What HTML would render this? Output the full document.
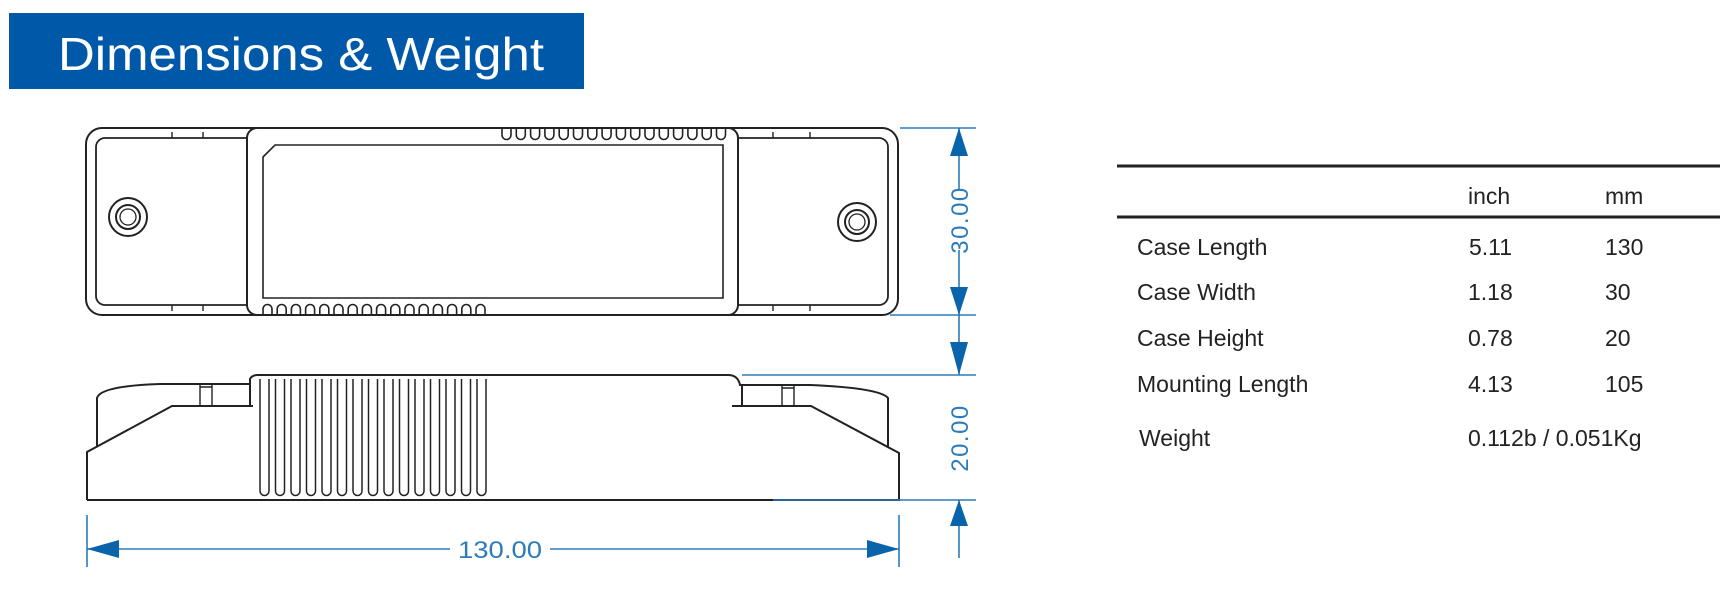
<!DOCTYPE html>
<html><head><meta charset="utf-8"><style>
html,body{margin:0;padding:0;background:#fff;}
svg{display:block}
</style></head><body>
<svg width="1728" height="593" viewBox="0 0 1728 593" xmlns="http://www.w3.org/2000/svg">
<rect x="9" y="13" width="575" height="76" fill="#0058a8"/>
<text x="58" y="70" font-family="Liberation Sans, sans-serif" font-size="46" fill="#fff" textLength="486" lengthAdjust="spacingAndGlyphs">Dimensions &amp; Weight</text>

<g fill="none" stroke="#222" stroke-width="2">
<rect x="86" y="128" width="812" height="187" rx="16"/>
<rect x="96" y="138" width="792" height="167" rx="9" stroke-width="1.8"/>
<rect x="247" y="128" width="491" height="187" rx="10" fill="#fff"/>
<path d="M275 145 H723 V298 H263 V157 Z" stroke-width="1.6"/>
<circle cx="128" cy="217" r="19"/><circle cx="128" cy="217" r="12"/><circle cx="128" cy="217" r="8" stroke-width="1.3"/>
<circle cx="857" cy="222" r="19"/><circle cx="857" cy="222" r="12"/><circle cx="857" cy="222" r="8" stroke-width="1.3"/>
<path d="M172 138v-6 M203 138v-6 M172 305v6 M203 305v6 M773 138v-6 M810 138v-6 M773 305v6 M810 305v6" stroke-width="1.4"/>
</g>
<g fill="none" stroke="#222" stroke-width="1.6">
<path d="M502 129v6a4.5 4.5 0 0 0 9 0v-6 M516.3 129v6a4.5 4.5 0 0 0 9 0v-6 M530.6 129v6a4.5 4.5 0 0 0 9 0v-6 M544.9 129v6a4.5 4.5 0 0 0 9 0v-6 M559.2 129v6a4.5 4.5 0 0 0 9 0v-6 M573.5 129v6a4.5 4.5 0 0 0 9 0v-6 M587.8 129v6a4.5 4.5 0 0 0 9 0v-6 M602.1 129v6a4.5 4.5 0 0 0 9 0v-6 M616.4 129v6a4.5 4.5 0 0 0 9 0v-6 M630.7 129v6a4.5 4.5 0 0 0 9 0v-6 M645 129v6a4.5 4.5 0 0 0 9 0v-6 M659.3 129v6a4.5 4.5 0 0 0 9 0v-6 M673.6 129v6a4.5 4.5 0 0 0 9 0v-6 M687.9 129v6a4.5 4.5 0 0 0 9 0v-6 M702.2 129v6a4.5 4.5 0 0 0 9 0v-6 M716.5 129v6a4.5 4.5 0 0 0 9 0v-6"/>
<path d="M263 315v-6a4.5 4.5 0 0 1 9 0v6 M277.2 315v-6a4.5 4.5 0 0 1 9 0v6 M291.4 315v-6a4.5 4.5 0 0 1 9 0v6 M305.6 315v-6a4.5 4.5 0 0 1 9 0v6 M319.8 315v-6a4.5 4.5 0 0 1 9 0v6 M334 315v-6a4.5 4.5 0 0 1 9 0v6 M348.2 315v-6a4.5 4.5 0 0 1 9 0v6 M362.4 315v-6a4.5 4.5 0 0 1 9 0v6 M376.6 315v-6a4.5 4.5 0 0 1 9 0v6 M390.8 315v-6a4.5 4.5 0 0 1 9 0v6 M405 315v-6a4.5 4.5 0 0 1 9 0v6 M419.2 315v-6a4.5 4.5 0 0 1 9 0v6 M433.4 315v-6a4.5 4.5 0 0 1 9 0v6 M447.6 315v-6a4.5 4.5 0 0 1 9 0v6 M461.8 315v-6a4.5 4.5 0 0 1 9 0v6 M476 315v-6a4.5 4.5 0 0 1 9 0v6"/>
</g>

<g fill="none" stroke="#222" stroke-width="2">
<path d="M87 500 V452 L172 406 H253 M87 500 H899 V453 L811 406 H732"/>
<path d="M97 447 V398 Q100 386 160 384 H250 V379 Q252 375 258 375 H728 Q738 375 740 385 H742 V406 M250 384 V406 M742 385 H810 Q880 388 888 398 V447"/>
<path d="M200 384 V406 M212 384 V406 M200 387 H212 M782 385 V406 M794 385 V406 M782 388 H794" stroke-width="1.4"/>
<path d="M260 379v112a4.5 4.5 0 0 0 9 0v-112 M275.5 379v112a4.5 4.5 0 0 0 9 0v-112 M291 379v112a4.5 4.5 0 0 0 9 0v-112 M306.5 379v112a4.5 4.5 0 0 0 9 0v-112 M322 379v112a4.5 4.5 0 0 0 9 0v-112 M337.5 379v112a4.5 4.5 0 0 0 9 0v-112 M353 379v112a4.5 4.5 0 0 0 9 0v-112 M368.5 379v112a4.5 4.5 0 0 0 9 0v-112 M384 379v112a4.5 4.5 0 0 0 9 0v-112 M399.5 379v112a4.5 4.5 0 0 0 9 0v-112 M415 379v112a4.5 4.5 0 0 0 9 0v-112 M430.5 379v112a4.5 4.5 0 0 0 9 0v-112 M446 379v112a4.5 4.5 0 0 0 9 0v-112 M461.5 379v112a4.5 4.5 0 0 0 9 0v-112 M477 379v112a4.5 4.5 0 0 0 9 0v-112" stroke-width="1.5"/>
</g>

<g stroke="#2b7bbd" stroke-width="1.6" fill="none">
<path d="M900 128 H976 M890 315 H976 M742 375 H976 M773 500 H976"/>
<path d="M959 128 V190 M959 250 V315 M959 315 V375 M959 500 V558"/>
<path d="M87 515 V567 M899 515 V567 M87 549 H450 M550 549 H899"/>
</g>
<g fill="#0a64ab">
<path d="M959 128 L950 156 H968 Z"/>
<path d="M959 315 L950 287 H968 Z"/>
<path d="M959 375 L950 342 H968 Z"/>
<path d="M959 500 L950 526 H968 Z"/>
<path d="M87 549 L119 540 V558 Z"/>
<path d="M899 549 L867 540 V558 Z"/>
</g>
<g font-family="Liberation Sans, sans-serif" font-size="24" fill="#2b7bbd" text-anchor="middle">
<text x="500" y="558" textLength="84" lengthAdjust="spacingAndGlyphs">130.00</text>
<text transform="translate(968 220) rotate(-90)" letter-spacing="1.5">30.00</text>
<text transform="translate(968 438) rotate(-90)" letter-spacing="1.5">20.00</text>
</g>

<g stroke="#222" stroke-width="3">
<path d="M1117 166 H1720 M1117 217 H1720"/>
</g>
<g font-family="Liberation Sans, sans-serif" font-size="23" fill="#222">
<text x="1468" y="204">inch</text><text x="1605" y="204">mm</text>
<text x="1137" y="255">Case Length</text><text x="1469" y="255">5.11</text><text x="1605" y="255">130</text>
<text x="1137" y="300">Case Width</text><text x="1468" y="300">1.18</text><text x="1605" y="300">30</text>
<text x="1137" y="346">Case Height</text><text x="1468" y="346">0.78</text><text x="1605" y="346">20</text>
<text x="1137" y="392">Mounting Length</text><text x="1468" y="392">4.13</text><text x="1605" y="392">105</text>
<text x="1139" y="446">Weight</text><text x="1468" y="446">0.112b / 0.051Kg</text>
</g>
</svg>
</body></html>
